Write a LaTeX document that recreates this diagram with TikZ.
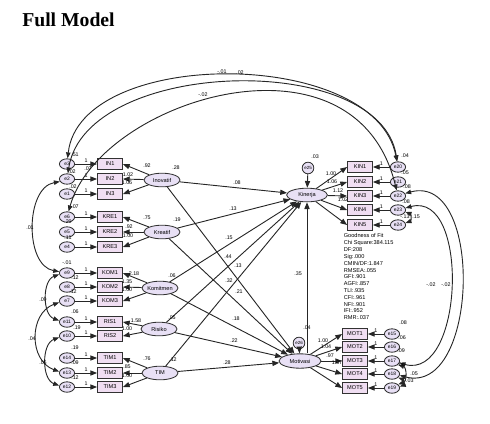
\documentclass[tikz,border=0pt]{standalone}
\usepackage{fontspec}
\setmainfont{Liberation Sans}
\newfontfamily\titlefont{Liberation Serif}
\usetikzlibrary{arrows.meta,positioning,shapes.geometric}
\definecolor{boxfill}{RGB}{240,222,242}
\definecolor{ellfill}{RGB}{232,224,245}
\definecolor{edgegray}{RGB}{50,50,50}
\tikzset{
  ind/.style={draw=edgegray,fill=boxfill,minimum width=0.62cm,minimum height=0.26cm,inner sep=0pt,font=\fontsize{4}{4}\selectfont,line width=0.7pt},
  err/.style={ellipse,draw=edgegray,fill=ellfill,minimum width=0.38cm,minimum height=0.26cm,inner sep=0pt,font=\fontsize{3.5}{4}\selectfont,line width=0.6pt},
  res/.style={circle,draw=edgegray,fill=ellfill,minimum size=0.29cm,inner sep=0pt,font=\fontsize{3.2}{4}\selectfont,line width=0.6pt},
  lat/.style={ellipse,draw=edgegray,fill=ellfill,minimum width=0.9cm,minimum height=0.34cm,inner sep=0pt,font=\fontsize{4}{4}\selectfont,line width=0.6pt},
  lbl/.style={font=\fontsize{3.8}{4}\selectfont,inner sep=0.4pt},
  arr/.style={-{Triangle[length=1.7mm,width=1.3mm]},line width=0.65pt,draw=black!85},
  cov/.style={{Triangle[length=1.5mm,width=1.1mm]}-{Triangle[length=1.5mm,width=1.1mm]},line width=0.65pt,draw=black!85},
}
\begin{document}
\begin{tikzpicture}[x=0.025cm,y=-0.025cm]
\useasboundingbox (0,0) rectangle (490,423);
\node[font={\titlefont\bfseries\fontsize{14}{16}\selectfont},anchor=west,inner sep=0pt] (title) at (22,20) {Full Model};

% latent variables
\node[lat] (Inovatif) at (162,180) {Inovatif};
\node[lat] (Kreatif) at (162,232) {Kreatif};
\node[lat] (Komitmen) at (160,288) {Komitmen};
\node[lat] (Risiko) at (159,329) {Risiko};
\node[lat] (TIM) at (160,373) {TIM};
\node[lat,minimum width=1.02cm] (Kinerja) at (307,195) {Kinerja};
\node[lat,minimum width=1.05cm,minimum height=0.36cm] (Motivasi) at (300,361) {Motivasi};
\node[res] (e25) at (308,168) {e25};
\node[res] (e26) at (299,343) {e26};
\draw[arr] (e25) -- (Kinerja);
\draw[arr] (e26) -- (Motivasi);
\draw[arr] (Kinerja |- Motivasi.north) -- (Kinerja);

% exogenous indicators
\foreach \n/\y/\e in {IN1/164/3,IN2/179/2,IN3/194/1,KRE1/217/6,KRE2/232/5,KRE3/247/4,KOM1/273/9,KOM2/287/8,KOM3/301/7,RIS1/322/11,RIS2/336/10,TIM1/358/14,TIM2/373/13,TIM3/387/12}{
  \node[ind] (\n) at (110,\y) {\n};
  \node[err] (e\e) at (67,\y) {e\e};
  \draw[arr] (e\e) -- node[lbl,above=0.2pt] {1} (\n);
}
\foreach \l/\n in {Inovatif/IN1,Inovatif/IN2,Inovatif/IN3,Kreatif/KRE1,Kreatif/KRE2,Kreatif/KRE3,Komitmen/KOM1,Komitmen/KOM2,Komitmen/KOM3,Risiko/RIS1,Risiko/RIS2,TIM/TIM1,TIM/TIM2,TIM/TIM3}
  \draw[arr] (\l) -- (\n.east);

% endogenous indicators
\foreach \n/\y/\e in {KIN1/167/20,KIN2/182/21,KIN3/196/22,KIN4/210/23,KIN5/225/24}{
  \node[ind] (\n) at (360,\y) {\n};
  \node[err] (e\e) at (398,\y) {e\e};
  \draw[arr] (e\e) -- node[lbl,above=0.2pt] {1} (\n);
  \draw[arr] (Kinerja) -- (\n.west);
}
\foreach \n/\y/\e in {MOT1/334/15,MOT2/347/16,MOT3/361/17,MOT4/374/18,MOT5/388/19}{
  \node[ind] (\n) at (355,\y) {\n};
  \node[err] (e\e) at (392,\y) {e\e};
  \draw[arr] (e\e) -- node[lbl,above=0.2pt] {1} (\n);
  \draw[arr] (Motivasi) -- (\n.west);
}

% structural paths
\foreach \l in {Inovatif,Kreatif,Komitmen,Risiko,TIM}{
  \draw[arr] (\l) -- (Kinerja);
  \draw[arr] (\l) -- (Motivasi);
}

% covariances
\draw[cov] (e3) .. controls (80,47) and (375,47) .. (e20);
\draw[cov] (e2) .. controls (86,58) and (380,50) .. (e20);
\draw[cov] (e6) .. controls (100,100) and (355,20) .. (e22);
\draw[cov] (e2.200) to[out=190,in=170] (e9.170);
\draw[cov] (e9.190) to[out=200,in=160] (e11.170);
\draw[cov] (e7.190) to[out=200,in=160,looseness=1.2] (e13.170);
\draw[cov] (e10.190) to[out=200,in=160] (e12.170);
\draw[cov] (e22.20) to[out=15,in=-15,looseness=1.15] (e18.-10);
\draw[cov] (e23.15) to[out=15,in=-15,looseness=1.1] (e17.-15);
\draw[cov] (e23.-15) to[out=-20,in=20,looseness=1.4] (e24.15);
\draw[cov] (e17.-30) to[out=-20,in=20,looseness=1.2] (e19.30);
\draw[cov] (e18.-30) to[out=-20,in=20,looseness=1.4] (e19.10);

% estimates
\foreach \t/\x/\y [count=\i] in {.28/176/168,.19/177/220,.06/172/276,.05/172/318,.12/173/360,
  .03/315/157,.04/307/328,
  .08/237/183,.13/233/209,.15/229/238,.44/228/257,.13/238/266,.32/229/281,.21/239/292,.18/236/319,.22/234/341,.28/227/363,.35/298/274,
  -.01/222/72,.02/240/73,-.02/203/95,
  .01/30/228,.09/43/300,.04/32/339,.05/43/363,
  -.02/431/285,-.02/446/285,-.13/405/217,.15/416/217,.05/414/374,-.03/409/381,
  .51/75/155,.02/72/172,.07/88/169,.02/73/187,.07/75/207,.20/68/222,.11/68/238,-.01/67/263,.12/75/278,.12/73/292,.06/75/312,.19/77/328,.19/75/348,.09/75/363,.12/75/378,
  .04/405/156,.05/405/173,.08/407/187,.08/406/202,.08/403/323,.06/402/338,.09/401/351,.06/401/365,
  .92/147/166,1.02/128/175,1.06/127/183,.75/147/218,.92/129/227,1.00/128/236,2.18/134/274,1.35/127/282,1.00/127/290,1.58/136/321,1.00/127/329,.76/147/359,.85/127/367,1.00/127/376,
  1.00/331/174,1.06/332/182,1.12/338/191,1.02/343/200,1.00/323/341,1.04/326/347,.97/330/356,1.07/337/363}
  \node[lbl] (est\i) at (\x,\y) {\t};

\node[lbl,anchor=north west,align=left,font=\fontsize{4}{4.85}\selectfont] (fit) at (343,233) {Goodness of Fit\\Chi Square:384.115\\DF:208\\Sig:.000\\CMIN/DF:1.847\\RMSEA:.055\\GFI:.901\\AGFI:.857\\TLI:.935\\CFI:.961\\NFI:.901\\IFI:.952\\RMR:.037};
\end{tikzpicture}
\end{document}
